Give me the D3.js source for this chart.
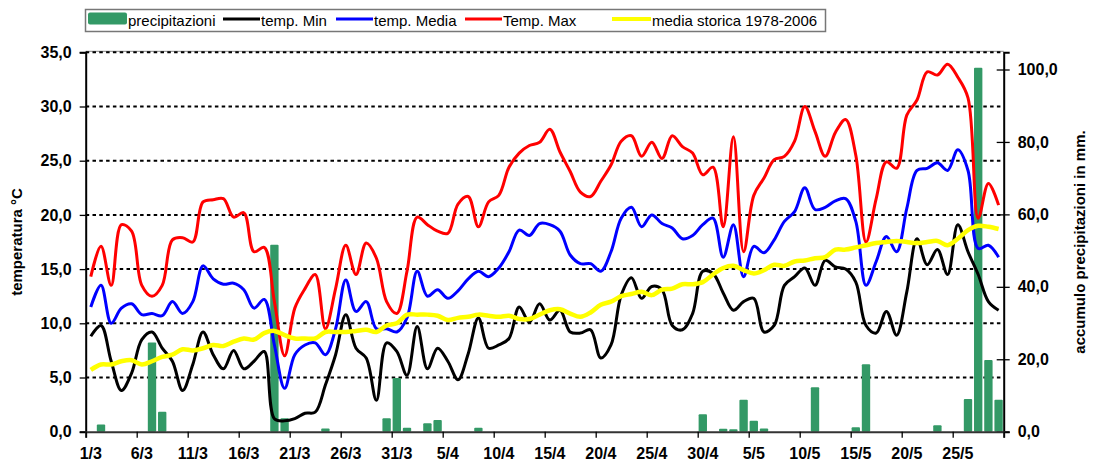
<!DOCTYPE html>
<html lang="it">
<head>
<meta charset="UTF-8">
<title>Temperature e precipitazioni</title>
<script src="https://d3js.org/d3.v7.min.js"></script>
<style>
    body { margin: 0; background: #fff; }
    svg { font-family: 'Liberation Sans', Arial, sans-serif; }
    .tick text { font-weight: bold; font-size: 16px; fill: #000; }
</style>
</head>
<body>
<div id="chart"></div>
<script>
// categories: every day from 1/3 to 29/5
const months = [[3, 31], [4, 30], [5, 29]];
const days = [];
months.forEach(([m, n]) => { for (let d = 1; d <= n; d++) days.push(d + "/" + m); });

const xLabels = ["1/3","6/3","11/3","16/3","21/3","26/3","31/3","5/4","10/4","15/4","20/4","25/4","30/4","5/5","10/5","15/5","20/5","25/5"];

// daily precipitation (mm, right axis)
const precip = [0,2.0,0,0,0,0,24.6,5.5,0,0, 0,0,0,0,0,0,0,0,51.6,3.7,
    0,0,0,0.9,0,0,0,0,0,3.7, 14.8,1.1,0,2.3,3.2,0,0,0,1.1,0,
    0,0,0,0,0,0,0,0,0,0, 0,0,0,0,0,0,0,0,0,0,
    4.8,0,0.8,0.7,8.8,3.0,0.9,0,0,0, 0,12.3,0,0,0,1.2,18.6,0,0,0,
    0,0,0,1.8,0,0,9.0,100.5,19.8,8.8];

const tMin = [8.8,9.8,6.5,3.8,5.4,8.5,9.2,7.7,6.5,3.8, 6.2,9.2,7.1,5.8,7.5,5.8,6.5,7.4,1.2,1.0,
    1.2,1.7,1.8,4.3,7.1,10.8,7.7,6.8,2.9,8.2, 7.4,5.2,9.7,5.8,7.7,6.5,4.8,7.2,10.5,7.7,
    8.0,8.6,11.5,10.1,11.8,10.3,11.2,9.2,9.1,9.4, 6.8,8.0,12.6,14.2,12.3,13.4,13.1,9.8,9.4,10.9,
    14.8,14.6,12.8,11.2,12.0,12.3,9.2,9.8,13.5,14.3, 15.1,13.5,15.8,15.2,15.0,13.8,9.8,9.1,11.1,8.9,
    12.9,17.8,15.4,16.8,14.5,19.1,16.6,14.5,12.0,11.2];

const tMed = [11.5,13.5,10.0,11.4,11.8,10.8,10.9,10.7,12.0,10.9, 12.0,15.3,14.1,13.6,13.7,13.1,11.4,12.2,8.0,4.0,
    7.1,8.0,8.2,7.1,9.5,14.0,11.1,12.0,9.5,9.5, 9.2,10.5,14.8,12.5,13.1,12.3,13.0,14.1,14.8,14.3,
    15.1,16.6,18.6,18.1,19.2,19.1,18.5,16.3,15.5,15.5, 14.8,16.6,19.7,20.7,18.9,20.0,19.2,18.8,17.8,18.1,
    19.1,19.7,16.1,19.1,14.3,17.1,16.5,17.7,19.4,20.3, 22.5,20.5,20.7,21.3,21.5,19.4,13.5,15.7,18.0,16.6,
    20.6,24.1,24.3,24.8,24.1,26.0,24.1,16.9,17.2,16.1];

const tMax = [14.3,17.1,13.5,19.1,18.5,13.5,12.5,13.5,17.7,17.9, 17.5,21.2,21.4,21.5,19.8,20.2,16.6,17.0,12.0,7.0,
    11.4,13.2,14.5,9.5,13.2,17.2,14.5,17.4,16.0,12.0, 10.9,14.8,19.8,19.1,18.5,18.3,21.0,21.7,18.9,21.2,
    21.8,24.4,25.7,26.4,26.7,27.9,25.8,24.0,22.1,21.7, 23.1,24.6,26.8,27.3,25.4,26.7,25.2,27.3,26.3,25.7,
    23.7,24.4,18.9,27.2,16.6,21.8,23.4,25.1,25.4,26.8, 30.0,27.7,25.4,27.6,28.8,25.5,17.5,21.5,24.9,24.3,
    29.2,30.6,33.2,32.9,33.9,32.7,30.8,19.7,22.9,20.9];

const tHist = [5.7,6.2,6.2,6.5,6.6,6.2,6.5,6.9,7.1,7.6, 7.5,7.7,8.0,7.9,8.3,8.6,8.5,9.1,9.3,8.9,
    8.6,8.6,8.6,9.2,9.2,9.2,9.3,9.4,9.2,9.8, 10.0,10.8,10.8,10.8,10.7,10.3,10.5,10.6,10.8,10.7,
    10.6,10.7,10.4,10.4,10.8,11.2,11.3,10.9,10.6,11.0, 11.7,12.0,12.5,12.7,12.9,12.6,13.1,13.2,13.6,13.6,
    13.8,14.5,15.1,15.3,14.9,14.6,14.9,15.4,15.3,15.7, 15.8,16.0,16.1,16.8,16.8,17.0,17.2,17.4,17.5,17.6,
    17.5,17.4,17.5,17.6,17.2,17.8,18.6,19.0,18.9,18.7];

const width = 1093, height = 464;
const L = 85.7, R = 1003.7, T = 52.3, B = 431.7;

const svg = d3.select("#chart").append("svg")
    .attr("width", width)
    .attr("height", height);

const x = d3.scaleBand().domain(days).range([L, R]).paddingInner(0.18).paddingOuter(0.09);
const xIdx = d3.scaleLinear().domain([0, days.length]).range([L, R]);
const y = d3.scaleLinear().domain([0, 35]).range([B, T]);
const y2 = d3.scaleLinear().domain([0, 104.75]).range([B, T]);
const cx = d => x(d) + x.bandwidth() / 2;

// plot frame top + gridlines
svg.append("line").attr("x1", L).attr("x2", R).attr("y1", T - 1).attr("y2", T - 1)
    .attr("stroke", "#888").attr("stroke-width", 1);
svg.append("g").selectAll("line")
    .data(d3.range(5, 36, 5))
    .enter().append("line")
    .attr("x1", L).attr("x2", R)
    .attr("y1", d => y(d)).attr("y2", d => y(d))
    .attr("stroke", "#000").attr("stroke-width", 2)
    .attr("stroke-dasharray", "3.5,3.3");

// precipitation bars
svg.append("g").selectAll("rect")
    .data(days.map((d, i) => ({ d, v: precip[i] })).filter(p => p.v > 0))
    .enter().append("rect")
    .attr("x", p => x(p.d))
    .attr("y", p => y2(p.v))
    .attr("width", x.bandwidth())
    .attr("height", p => B - y2(p.v))
    .attr("rx", 1)
    .attr("fill", "#339966");

// temperature lines
const series = [
    { v: tMin, color: "#000000", w: 3 },
    { v: tMed, color: "#0000FF", w: 3 },
    { v: tMax, color: "#FF0000", w: 3 },
    { v: tHist, color: "#FFFF00", w: 4.5 }
];
const line = d3.line()
    .x((v, i) => cx(days[i]))
    .y(v => y(v))
    .curve(d3.curveCatmullRom.alpha(0.5));
svg.append("g").selectAll("path")
    .data(series)
    .enter().append("path")
    .attr("d", s => line(s.v))
    .attr("fill", "none")
    .attr("stroke", s => s.color)
    .attr("stroke-width", s => s.w)
    .attr("stroke-linejoin", "round");

// left axis
const yAxis = svg.append("g").attr("transform", `translate(${L},0)`)
    .call(d3.axisLeft(y).tickValues(d3.range(0, 36, 5)).tickSize(6).tickPadding(8)
        .tickFormat(d => d3.format(".1f")(d).replace(".", ",")));
yAxis.select(".domain").attr("stroke", "#000").attr("stroke-width", 2);
yAxis.selectAll(".tick line").attr("stroke", "#000").attr("stroke-width", 1.3);

// right axis
const y2Axis = svg.append("g").attr("transform", `translate(${R},0)`)
    .call(d3.axisRight(y2).tickValues(d3.range(0, 101, 20)).tickSize(6).tickPadding(8)
        .tickFormat(d => d3.format(".1f")(d).replace(".", ",")));
y2Axis.select(".domain").attr("stroke", "#000").attr("stroke-width", 2);
y2Axis.selectAll(".tick line").attr("x1", -7).attr("stroke", "#000").attr("stroke-width", 1.3);

// bottom axis: ticks at category boundaries, labels on categories
const xTicks = svg.append("g").attr("transform", `translate(0,${B})`)
    .call(d3.axisBottom(xIdx).tickValues(d3.range(0, days.length + 1, 5)).tickSize(6).tickFormat(""));
xTicks.select(".domain").attr("stroke", "#333").attr("stroke-width", 2);
xTicks.selectAll(".tick line").attr("stroke", "#000").attr("stroke-width", 1.3);

const xLab = svg.append("g").attr("transform", `translate(0,${B})`)
    .call(d3.axisBottom(x).tickValues(xLabels).tickSize(0).tickPadding(16));
xLab.select(".domain").remove();

// axis titles
svg.append("text")
    .attr("transform", `translate(22,${(T + B) / 2}) rotate(-90)`)
    .attr("text-anchor", "middle")
    .attr("font-size", 15).attr("font-weight", "bold")
    .text("temperatura °C");
svg.append("text")
    .attr("transform", `translate(1085,${(T + B) / 2}) rotate(-90)`)
    .attr("text-anchor", "middle")
    .attr("font-size", 15).attr("font-weight", "bold")
    .text("accumulo precipitazioni in mm.");

// legend
const legend = svg.append("g");
legend.append("rect")
    .attr("x", 85.5).attr("y", 9.5).attr("width", 740).attr("height", 22)
    .attr("fill", "#fff").attr("stroke", "#777").attr("stroke-width", 1.5);
legend.append("rect")
    .attr("x", 88).attr("y", 12.5).attr("width", 39).attr("height", 12)
    .attr("rx", 2).attr("fill", "#339966");
const legItems = [
    { x0: 128, text: "precipitazioni" },
    { x0: 223, x1: 260, color: "#000000", w: 3, text: "temp. Min" },
    { x0: 336, x1: 373, color: "#0000FF", w: 3, text: "temp. Media" },
    { x0: 465, x1: 502, color: "#FF0000", w: 3, text: "Temp. Max" },
    { x0: 612, x1: 651, color: "#FFFF00", w: 4, text: "media storica 1978-2006" }
];
legItems.forEach(it => {
    if (it.color) {
        legend.append("line")
            .attr("x1", it.x0).attr("x2", it.x1).attr("y1", 19).attr("y2", 19)
            .attr("stroke", it.color).attr("stroke-width", it.w);
    }
    legend.append("text")
        .attr("x", it.color ? it.x1 + 1 : it.x0)
        .attr("y", 25.5)
        .attr("font-size", 15)
        .text(it.text);
});
</script>
</body>
</html>
